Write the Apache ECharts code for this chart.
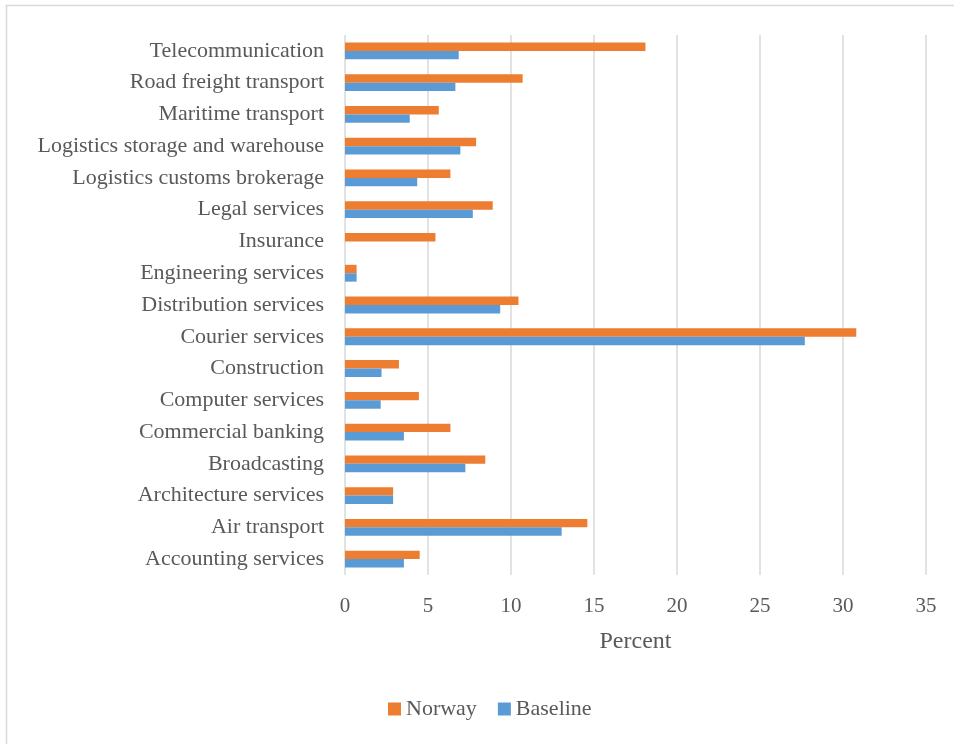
<!DOCTYPE html>
<html>
<head>
<meta charset="utf-8">
<script src="https://cdn.jsdelivr.net/npm/echarts@6/dist/echarts.min.js"></script>
<style>
  html, body { margin: 0; padding: 0; background: #ffffff; }
  #chart { width: 954px; height: 744px; }
</style>
</head>
<body>
<div id="chart"></div>
<script>
// Sectors, listed top to bottom
const categories = [
  'Telecommunication',
  'Road freight transport',
  'Maritime transport',
  'Logistics storage and warehouse',
  'Logistics customs brokerage',
  'Legal services',
  'Insurance',
  'Engineering services',
  'Distribution services',
  'Courier services',
  'Construction',
  'Computer services',
  'Commercial banking',
  'Broadcasting',
  'Architecture services',
  'Air transport',
  'Accounting services'
];

// Percent values per sector
const norway = [18.1, 10.7, 5.65, 7.9, 6.35, 8.9, 5.45, 0.7, 10.45, 30.8, 3.25, 4.45, 6.35, 8.45, 2.9, 14.6, 4.5];
const baseline = [6.85, 6.65, 3.9, 6.95, 4.35, 7.7, 0, 0.7, 9.35, 27.7, 2.2, 2.15, 3.55, 7.25, 2.9, 13.05, 3.55];

const seriesNames = ['Norway', 'Baseline'];
const axisTicks = [0, 5, 10, 15, 20, 25, 30, 35];

const FONT = 'Liberation Serif';
const TEXT = '#595959';

const chart = echarts.init(document.getElementById('chart'), null, { renderer: 'canvas' });

chart.setOption({
  animation: false,
  backgroundColor: '#ffffff',
  textStyle: { fontFamily: FONT, color: TEXT },
  graphic: [{
    type: 'rect',
    shape: { x: 6.5, y: 5.5, width: 1000, height: 800 },
    style: { fill: 'none', stroke: '#d9d9d9', lineWidth: 1.5 },
    silent: true,
    z: -1
  }],
  grid: { left: 345, right: 28, top: 35, bottom: 169, containLabel: false },
  legend: {
    data: seriesNames,
    bottom: 24,
    left: 388,
    padding: 0,
    itemWidth: 13,
    itemHeight: 13,
    itemGap: 21,
    icon: 'rect',
    textStyle: { fontFamily: FONT, fontSize: 22, color: TEXT }
  },
  xAxis: {
    type: 'value',
    min: axisTicks[0],
    max: axisTicks[axisTicks.length - 1],
    interval: axisTicks[1] - axisTicks[0],
    name: 'Percent',
    nameLocation: 'middle',
    nameGap: 55,
    nameTextStyle: { fontFamily: FONT, fontSize: 24, color: TEXT },
    axisLine: { show: false },
    axisTick: { show: false },
    axisLabel: { fontFamily: FONT, fontSize: 21, color: TEXT, margin: 21 },
    splitLine: { show: true, lineStyle: { color: '#d9d9d9', width: 1.5 } }
  },
  yAxis: {
    type: 'category',
    data: categories,
    inverse: true,
    axisLine: { show: false },
    axisTick: { show: false },
    axisLabel: { fontFamily: FONT, fontSize: 22, color: TEXT, margin: 21 }
  },
  series: [
    {
      name: seriesNames[0],
      type: 'bar',
      data: norway,
      barGap: '0%',
      barCategoryGap: '47%',
      itemStyle: { color: '#ED7D31' }
    },
    {
      name: seriesNames[1],
      type: 'bar',
      data: baseline,
      barGap: '0%',
      barCategoryGap: '47%',
      itemStyle: { color: '#5B9BD5' }
    }
  ]
});
</script>
</body>
</html>
